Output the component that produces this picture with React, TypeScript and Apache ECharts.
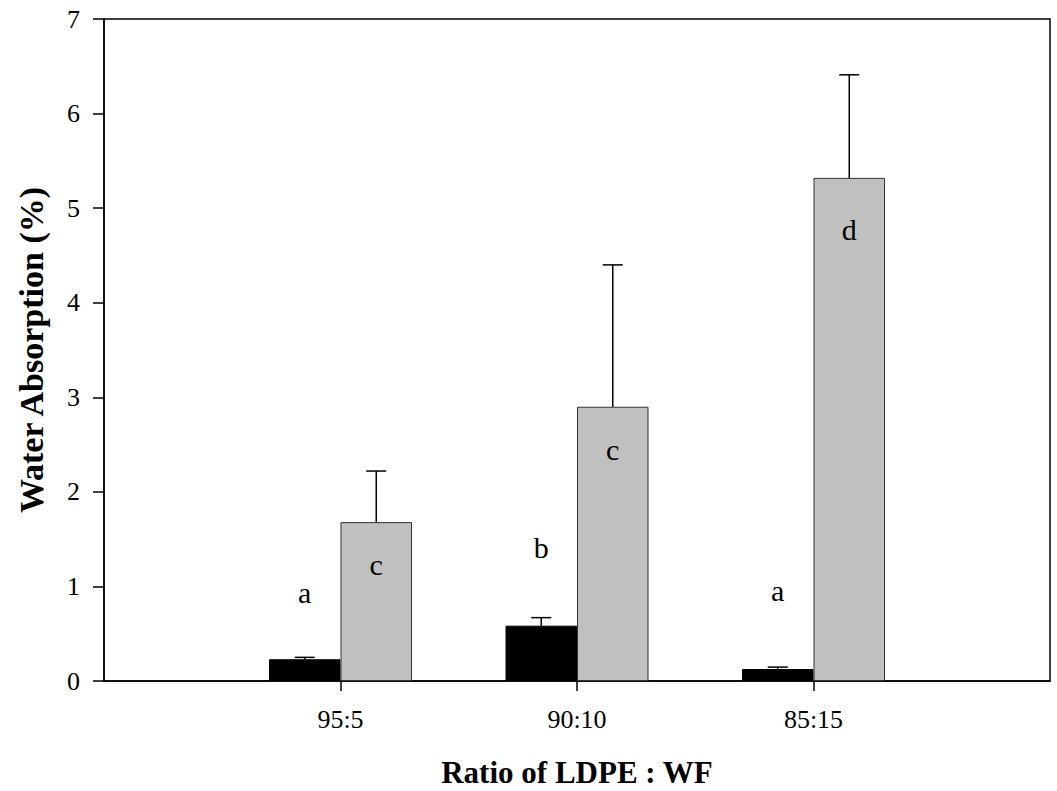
import React, { useEffect, useRef } from "react";
import * as echarts from "echarts";

const categories = ["", "95:5", "90:10", "85:15", ""];
const blackValues = [null, 0.23, 0.585, 0.127, null];
const blackErrors = [null, 0.02, 0.085, 0.02, null];
const greyValues = [null, 1.68, 2.9, 5.32, null];
const greyErrors = [null, 0.54, 1.5, 1.09, null];
const blackLetters = ["", "a", "b", "a", ""];
const blackLetterY = [null, 0.94, 1.41, 0.96, null];
const greyLetters = ["", "c", "c", "d", ""];
const greyLetterY = [null, 1.23, 2.45, 4.77, null];
const yTicks = [0, 1, 2, 3, 4, 5, 6, 7];

const FONT = "'Liberation Serif', 'Times New Roman', serif";
const BAR_W = 71.5;

function errorSeries(values: (number | null)[], errors: (number | null)[], offset: number) {
  const data: number[][] = [];
  values.forEach((v, i) => {
    if (v !== null && errors[i] !== null) data.push([i, v, errors[i] as number]);
  });
  return {
    type: "custom",
    data,
    z: 5,
    silent: true,
    renderItem: (params: any, api: any) => {
      const i = api.value(0);
      const v = api.value(1);
      const e = api.value(2);
      const base = api.coord([i, v]);
      const top = api.coord([i, v + e]);
      const x = base[0] + offset;
      const st = { stroke: "#000", lineWidth: 1.5 };
      return {
        type: "group",
        children: [
          { type: "line", shape: { x1: x, y1: base[1], x2: x, y2: top[1] }, style: st },
          { type: "line", shape: { x1: x - 10, y1: top[1], x2: x + 10, y2: top[1] }, style: st },
        ],
      };
    },
  };
}

function letterSeries(letters: string[], ys: (number | null)[], offset: number) {
  const data: number[][] = [];
  ys.forEach((y, i) => {
    if (y !== null) data.push([i, y]);
  });
  return {
    type: "custom",
    data,
    z: 6,
    silent: true,
    renderItem: (params: any, api: any) => {
      const i = api.value(0);
      const p = api.coord([i, api.value(1)]);
      return {
        type: "text",
        x: p[0] + offset,
        y: p[1],
        style: {
          text: letters[i],
          fontSize: 30,
          fontFamily: FONT,
          fill: "#000",
          align: "center",
          verticalAlign: "middle",
        },
      };
    },
  };
}

export default function App() {
  const ref = useRef<HTMLDivElement>(null);
  useEffect(() => {
    if (!ref.current) return;
    const chart = echarts.init(ref.current, null, { renderer: "svg" });
    chart.setOption({
      animation: false,
      backgroundColor: "#fff",
      textStyle: { fontFamily: FONT },
      grid: {
        left: 104,
        right: 7,
        top: 19,
        bottom: 110,
        containLabel: false,
        outerBoundsMode: "none",
        show: true,
        borderColor: "#000",
        borderWidth: 1.5,
        backgroundColor: "transparent",
      },
      xAxis: {
        type: "category",
        data: categories,
        boundaryGap: false,
        name: "Ratio of LDPE : WF",
        nameLocation: "middle",
        nameGap: 76,
        nameTextStyle: { fontSize: 31, fontWeight: "bold", fontFamily: FONT, color: "#000" },
        axisLine: { lineStyle: { color: "#000", width: 1.5 } },
        axisTick: {
          length: 10,
          lineStyle: { color: "#000", width: 1.5 },
          interval: (idx: number) => idx > 0 && idx < categories.length - 1,
        },
        axisLabel: {
          fontSize: 26,
          fontFamily: FONT,
          color: "#000",
          margin: 25,
          interval: 0,
        },
        splitLine: { show: false },
      },
      yAxis: {
        type: "value",
        min: yTicks[0],
        max: yTicks[yTicks.length - 1],
        interval: 1,
        name: "Water Absorption (%)",
        nameLocation: "middle",
        nameGap: 56,
        nameRotate: 90,
        nameTextStyle: { fontSize: 34, fontWeight: "bold", fontFamily: FONT, color: "#000" },
        axisLine: { show: true, lineStyle: { color: "#000", width: 1.5 } },
        axisTick: { show: true, length: 11, lineStyle: { color: "#000", width: 1.5 } },
        axisLabel: { fontSize: 26, fontFamily: FONT, color: "#000", margin: 24 },
        splitLine: { show: false },
      },
      series: [
        {
          name: "Series 1",
          type: "bar",
          data: blackValues.map((v) => (v === null ? "-" : v)),
          barWidth: BAR_W,
          barGap: "0%",
          itemStyle: { color: "#000", borderColor: "#000", borderWidth: 1 },
        },
        {
          name: "Series 2",
          type: "bar",
          data: greyValues.map((v) => (v === null ? "-" : v)),
          barWidth: BAR_W,
          barGap: "0%",
          itemStyle: { color: "#c0c0c0", borderColor: "#333", borderWidth: 1 },
        },
        errorSeries(blackValues, blackErrors, -BAR_W / 2),
        errorSeries(greyValues, greyErrors, BAR_W / 2),
        letterSeries(blackLetters, blackLetterY, -BAR_W / 2),
        letterSeries(greyLetters, greyLetterY, BAR_W / 2),
      ],
    });
    return () => chart.dispose();
  }, []);
  return (
    <div
      ref={ref}
      style={{ position: "fixed", left: 0, top: 0, width: 1057, height: 791, background: "#fff" }}
    />
  );
}
